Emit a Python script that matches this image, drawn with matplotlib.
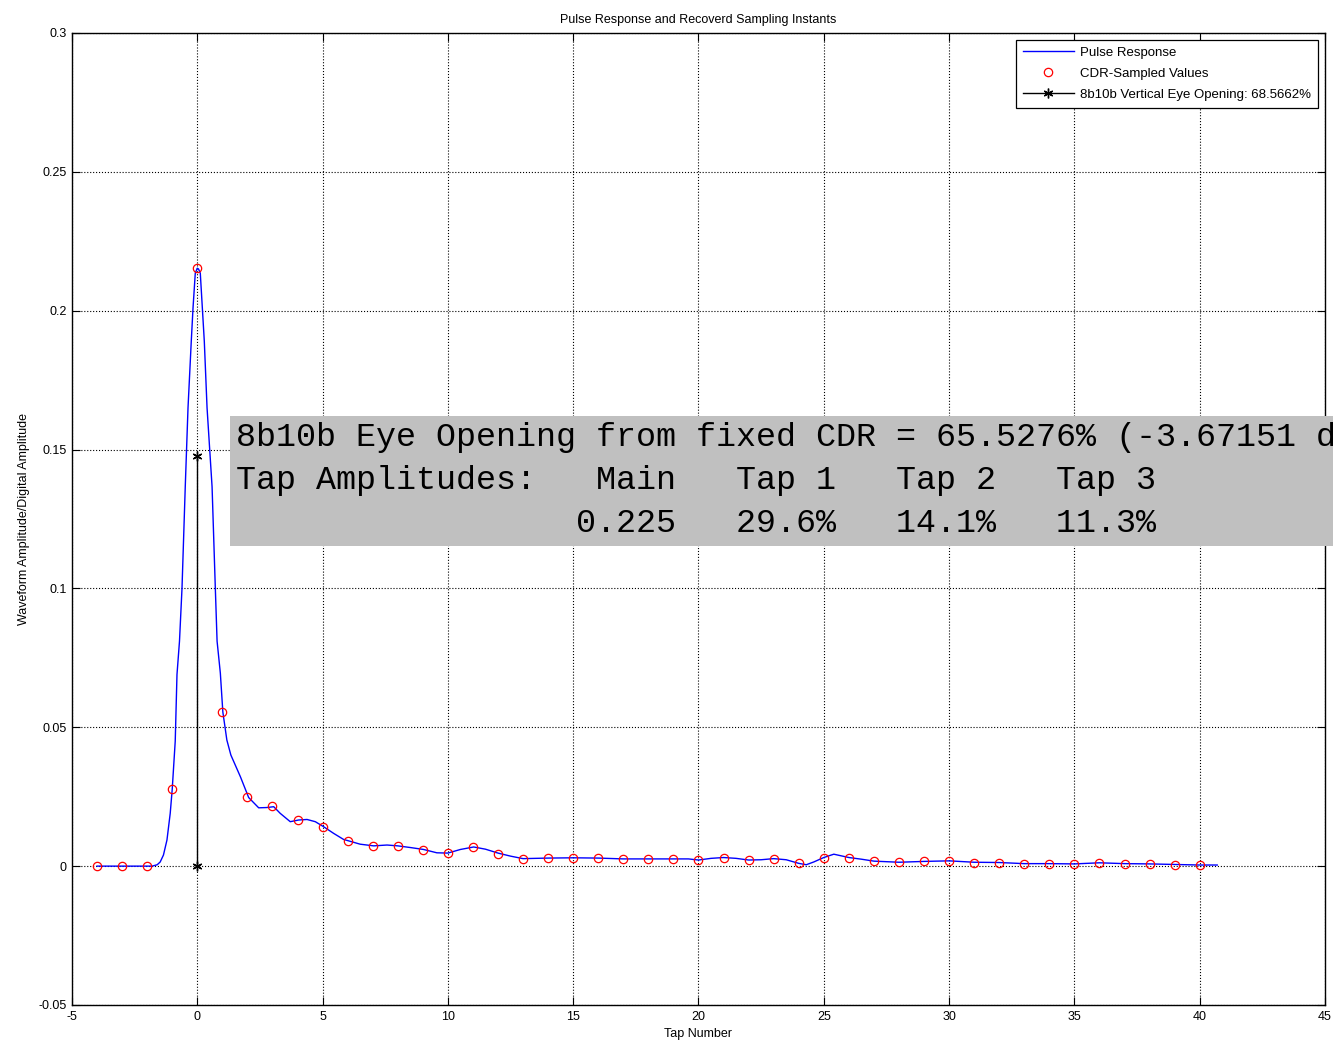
import numpy as np
import matplotlib
matplotlib.use("Agg")
import matplotlib.pyplot as plt

# pulse response curve
curve_x = [-4.0, -1.8, -1.6, -1.48, -1.35, -1.21, -1.08, -1.0, -0.88, -0.81,
           -0.71, -0.61, -0.48, -0.37, -0.24, -0.17, -0.08, 0.0, 0.05, 0.12,
           0.28, 0.39, 0.59, 0.72, 0.79, 0.92, 1.02, 1.18, 1.34, 1.72,
           2.05, 2.45, 2.78, 3.05, 3.31, 3.71, 4.04, 4.38, 4.71, 5.04,
           5.44, 5.84, 6.0, 6.5, 7.04, 7.57, 8.0, 8.5, 9.03, 9.56,
           10.0, 10.5, 11.03, 11.5, 12.0, 12.5, 13.0, 14.0, 15.0, 16.0,
           17.0, 18.0, 19.0, 19.6, 20.0, 20.5, 21.0, 21.5, 22.0, 22.5,
           23.0, 23.5, 24.0, 24.3, 24.6, 25.0, 25.4, 26.0, 26.5, 27.0,
           28.0, 29.0, 30.0, 31.0, 32.0, 33.0, 34.0, 35.0, 36.0, 37.0,
           38.0, 39.0, 40.0, 40.7]
curve_y = [0.0, 0.0, 0.0005, 0.0015, 0.004, 0.0094, 0.019, 0.0277, 0.045, 0.069,
           0.081, 0.100, 0.1366, 0.165, 0.189, 0.201, 0.2135, 0.2153, 0.2150, 0.2135,
           0.189, 0.165, 0.1366, 0.100, 0.081, 0.0695, 0.0555, 0.0454, 0.040, 0.0322,
           0.0247, 0.021, 0.0211, 0.0214, 0.019, 0.016, 0.0166, 0.0168, 0.016, 0.0142,
           0.0118, 0.0096, 0.0092, 0.0079, 0.0073, 0.0076, 0.0073, 0.0067, 0.006, 0.0048,
           0.0047, 0.006, 0.0069, 0.0061, 0.0047, 0.0036, 0.0027, 0.0029, 0.003, 0.0029,
           0.0026, 0.0026, 0.0026, 0.0026, 0.0022, 0.0028, 0.0031, 0.0028, 0.0022, 0.0023,
           0.0027, 0.0023, 0.001, 0.0005, 0.0015, 0.0031, 0.0043, 0.0031, 0.0025, 0.0018,
           0.0014, 0.0017, 0.0019, 0.0014, 0.0013, 0.0009, 0.0009, 0.0008, 0.0012, 0.0009,
           0.0008, 0.0006, 0.0004, 0.0004]

# CDR sampled values at each tap
tap_x = list(range(-4, 41))
tap_y = [0.0, 0.0, 0.0, 0.0277, 0.2153, 0.0555, 0.0248, 0.0216, 0.0166, 0.0142,
         0.0092, 0.0072, 0.0072, 0.0058, 0.0047, 0.0068, 0.0045, 0.0026, 0.0030, 0.0030,
         0.0030, 0.0025, 0.0025, 0.0025, 0.0022, 0.0031, 0.0022, 0.0025, 0.0010, 0.0031,
         0.0031, 0.0018, 0.0014, 0.0018, 0.0019, 0.0013, 0.0013, 0.0008, 0.0008, 0.0008,
         0.0013, 0.0008, 0.0008, 0.0005, 0.0004]

eye_x = [0, 0]
eye_y = [0.0, 0.1476]
eye_pct = 68.5662

box_lines = ["8b10b Eye Opening from fixed CDR = 65.5276% (-3.67151 dB)",
             "Tap Amplitudes:   Main   Tap 1   Tap 2   Tap 3",
             "                 0.225   29.6%   14.1%   11.3%"]

plt.rcParams['font.family'] = ['Liberation Sans', 'DejaVu Sans']
plt.rcParams['axes.unicode_minus'] = False

fig = plt.figure(figsize=(13.33, 10.46), dpi=100)
ax = fig.add_axes([0.054, 0.0392, 0.94, 0.9293])

ax.plot(curve_x, curve_y, color='#0000ff', lw=1.0, label='Pulse Response')
ax.plot(tap_x, tap_y, ls='none', marker='o', mfc='none', mec='#ff0000',
        ms=6, mew=0.9, label='CDR-Sampled Values')
ax.plot(eye_x, eye_y, color='black', lw=1.0, marker=(6, 2, 0), ms=7, mew=1.0,
        label='8b10b Vertical Eye Opening: %.4f%%' % eye_pct)

ax.set_xlim(-5, 45)
ax.set_ylim(-0.05, 0.3)
ax.set_xticks(np.arange(-5, 46, 5))
ax.set_yticks([-0.05, 0, 0.05, 0.1, 0.15, 0.2, 0.25, 0.3])
ax.set_yticklabels(['-0.05', '0', '0.05', '0.1', '0.15', '0.2', '0.25', '0.3'])
ax.tick_params(direction='in', top=True, right=True, length=6, labelsize=9, pad=4)
ax.grid(True, ls=':', color='black', lw=0.8)
for s in ax.spines.values():
    s.set_linewidth(1.0)

ax.set_title('Pulse Response and Recoverd Sampling Instants', fontsize=9, pad=7)
ax.set_xlabel('Tap Number', fontsize=9, labelpad=4)
ax.set_ylabel('Waveform Amplitude/Digital Amplitude', fontsize=9, labelpad=6)

leg = ax.legend(loc='upper right', fontsize=9.5, fancybox=False, framealpha=1,
                edgecolor='black', handlelength=3.8, handletextpad=0.5,
                labelspacing=0.65, borderaxespad=0.5, borderpad=0.55)
leg.get_frame().set_linewidth(0.9)

ax.text(1.56, 0.1598, "\n".join(box_lines), family='Liberation Mono', fontsize=24,
        ha='left', va='top', linespacing=1.5, clip_on=False,
        bbox=dict(boxstyle='square,pad=0.2', fc='#c0c0c0', ec='none'))

fig.savefig('out.png', dpi=100)
